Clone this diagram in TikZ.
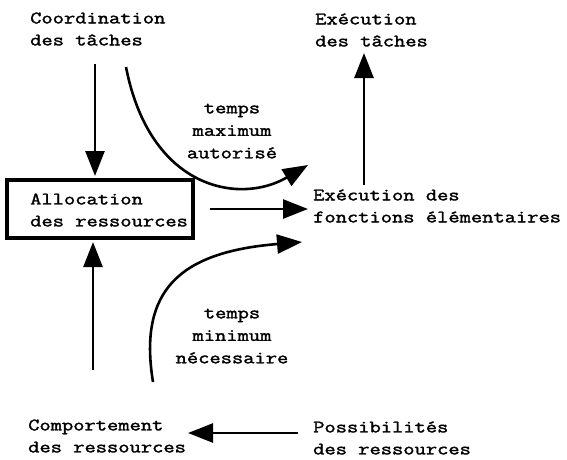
\documentclass[tikz,border=0pt]{standalone}
\usepackage{fontspec}
\setmainfont{Latin Modern Mono}[FakeStretch=1.25,FakeBold=1.8]
\usetikzlibrary{arrows.meta,calc}
\tikzset{
  txt/.style={inner sep=0pt, align=left, anchor=west, font=\fontsize{17.5pt}{22pt}\selectfont},
  lbl/.style={inner sep=0pt, align=center, font=\fontsize{17.5pt}{22.5pt}\selectfont},
  conn/.style={line width=2.6pt, -{Triangle[length=25pt,width=19pt]}},
  boxst/.style={draw, line width=3.2pt, minimum width=186pt, minimum height=58pt, inner sep=0pt}
}
\begin{document}
\begin{tikzpicture}[x=1pt,y=-1pt]
\useasboundingbox (0,0) rectangle (567,459);
\node[txt] (coord) at (30,29) {Coordination\\des tâches};
\node[txt] (exect) at (315,30) {Exécution\\des tâches};
\node[boxst] (alloc) at (100,209) {};
\node[txt] (alloctxt) at (30,210) {Allocation\\des ressources};
\node[txt] (execf) at (313,206) {Exécution des\\fonctions élémentaires};
\node[txt] (comp) at (28,436) {Comportement\\des ressources};
\node[txt] (poss) at (313,438) {Possibilités\\des ressources};
\node[lbl] (tmax) at (232,131) {temps\\maximum\\autorisé};
\node[lbl] (tmin) at (232,336) {temps\\minimum\\nécessaire};
\coordinate (c1) at (126,67);
\coordinate (c2) at (308,165);
\coordinate (c3) at (153,382);
\coordinate (c4) at (302,242);
% straight connectors
\draw[conn] (95,64) -- (95,176);
\draw[conn] ([xshift=15pt]alloc.east) -- (alloc.east -| 308,0);
\draw[conn] (364,185) -- (364,53);
\draw[conn] (93,370) -- (93,242);
\draw[conn] (298,433) -- (188,433);
% curved connectors
\draw[conn] (c1) .. controls (150,190) and (240,205) .. (c2);
\draw[conn] (c3) .. controls (138,290) and (180,252) .. (c4);
\end{tikzpicture}
\end{document}
